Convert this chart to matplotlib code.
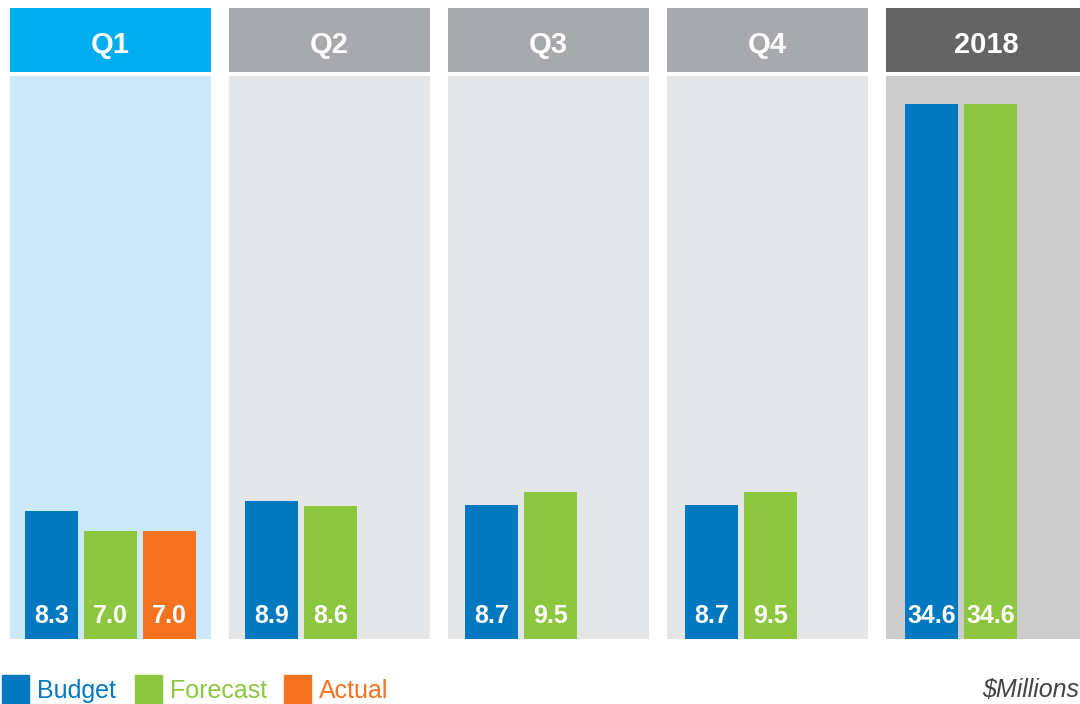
import matplotlib
matplotlib.use('Agg')
from matplotlib import pyplot as plt
import matplotlib.patches as mpatches

# data
panels = ['Q1', 'Q2', 'Q3', 'Q4', '2018']
budget = [8.3, 8.9, 8.7, 8.7, 34.6]
forecast = [7.0, 8.6, 9.5, 9.5, 34.6]
actual = [7.0, None, None, None, None]
series_names = ['Budget', 'Forecast', 'Actual']

c_budget = '#0079C1'
c_forecast = '#8DC63F'
c_actual = '#F37321'
head_colors = ['#00AEEF', '#A7A9AC', '#A7A9AC', '#A7A9AC', '#646464']
body_colors = ['#CCE9F9', '#E5E6E8', '#E5E6E8', '#E5E6E8', '#CCCCCC']

W, H = 1080, 704
fig = plt.figure(figsize=(W / 100, H / 100), dpi=100)
fig.patch.set_facecolor('white')

fam = ['Liberation Sans', 'DejaVu Sans']

px_per_unit = 15.45
body_top, body_bot = 76, 639
ymax = (body_bot - body_top) / px_per_unit
panel_w = 201
step = 219
x0 = 10
bar_step = 58.8

for i, name in enumerate(panels):
    left = x0 + i * step
    bar_off = 41.5 + i
    # header
    hax = fig.add_axes([left / W, 1 - 72 / H, panel_w / W, 64 / H])
    hax.set_facecolor(head_colors[i])
    hax.set_xticks([]); hax.set_yticks([])
    for s in hax.spines.values():
        s.set_visible(False)
    hax.text(0.5, 19 / 64, name, ha='center', va='baseline', color='white',
             fontsize=21, fontweight='bold', family=fam, transform=hax.transAxes)

    # body
    ax = fig.add_axes([left / W, 1 - body_bot / H, panel_w / W, (body_bot - body_top) / H])
    ax.set_facecolor(body_colors[i])
    ax.set_xticks([]); ax.set_yticks([])
    for s in ax.spines.values():
        s.set_visible(False)
    ax.set_xlim(-bar_off / bar_step, (panel_w - bar_off) / bar_step)
    ax.set_ylim(0, ymax)

    vals = [budget[i], forecast[i], actual[i]]
    cols = [c_budget, c_forecast, c_actual]
    for j, (v, c) in enumerate(zip(vals, cols)):
        if v is None:
            continue
        ax.bar(j, v, width=53 / bar_step, color=c, bottom=0)
        ax.text(j, 16 / px_per_unit, f'{v:.1f}', ha='center', va='baseline', color='white',
                fontsize=18, fontweight='bold', family=fam)

# legend
for k, (nm, c) in enumerate(zip(series_names, [c_budget, c_forecast, c_actual])):
    lx = [2, 135, 284][k]
    fig.patches.append(mpatches.Rectangle((lx / W, 1 - 704 / H), 27 / W, 29 / H,
                                          transform=fig.transFigure, color=c))
    fig.text((lx + 35) / W, 1 - 698 / H, nm, color=c, fontsize=18,
             ha='left', va='baseline', family=fam)

fig.text(982 / W, 1 - 697 / H, '$Millions', color='#444444', fontsize=18,
         style='italic', ha='left', va='baseline', family=fam)

fig.savefig('out.png', dpi=100)
